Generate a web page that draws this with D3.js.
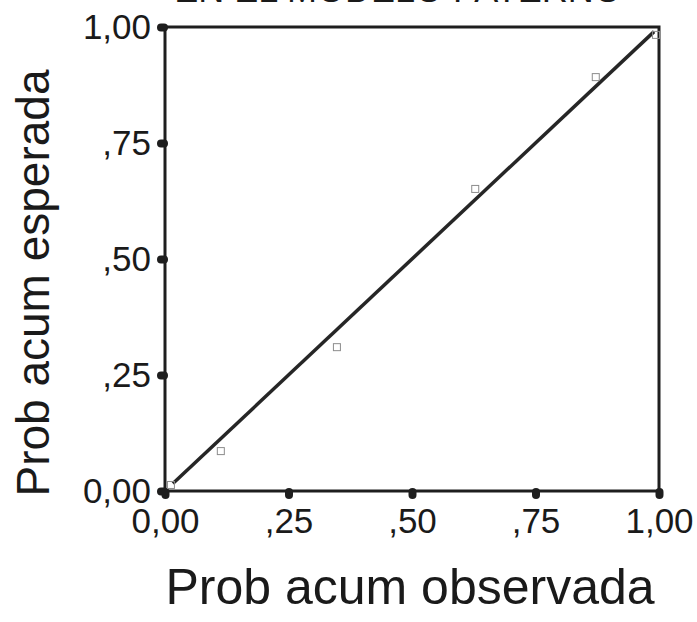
<!DOCTYPE html>
<html><head><meta charset="utf-8">
<script src="https://cdn.jsdelivr.net/npm/d3@7"></script>
<style>body{margin:0;background:#fff}svg{display:block}text{font-family:"Liberation Sans",Arial,sans-serif;fill:#1a1a1a}</style>
</head><body>
<script>
const titleText = "EN EL MODELO PATERNO";
const xLabel = "Prob acum observada";
const yLabel = "Prob acum esperada";
const tickValues = [0, 0.25, 0.5, 0.75, 1];
const tickLabels = ["0,00", ",25", ",50", ",75", "1,00"];
const observed = [0.012, 0.113, 0.348, 0.628, 0.872, 0.994];
const expected = [0.013, 0.086, 0.310, 0.651, 0.892, 0.983];
const refLine = [0.016, 0.99];

const W = 697, H = 622;
const svg = d3.select("body").append("svg").attr("width", W).attr("height", H);
const x = d3.scaleLinear().domain([0, 1]).range([165, 659]);
const y = d3.scaleLinear().domain([0, 1]).range([491, 27]);
const ink = "#1e1e1e";

// title (cut off at top, as in the reference)
svg.append("text").attr("x", 398).attr("y", 2).attr("text-anchor", "middle")
  .style("font-size", "36px").text(titleText);

// frame
svg.append("rect").attr("x", x(0)).attr("y", y(1)).attr("width", x(1) - x(0)).attr("height", y(0) - y(1))
  .attr("fill", "none").attr("stroke", ink).attr("stroke-width", 3);

// axes via d3
const xAxis = d3.axisBottom(x).tickValues(tickValues).tickFormat((d, i) => tickLabels[i]).tickSize(5).tickPadding(7);
const gx = svg.append("g").attr("transform", `translate(0,${y(0)})`).call(xAxis);
const yAxis = d3.axisLeft(y).tickValues(tickValues).tickFormat((d, i) => tickLabels[i]).tickSize(5).tickPadding(7);
const gy = svg.append("g").attr("transform", `translate(${x(0)},0)`).call(yAxis);
[gx, gy].forEach(g => {
  g.select(".domain").remove();
  g.selectAll(".tick line").attr("stroke", ink).attr("stroke-width", 8).attr("stroke-linecap", "round");
  g.selectAll(".tick text").style("font-size", "35px").style("font-family", "'Liberation Sans',Arial,sans-serif").attr("fill", "#1a1a1a");
});
gx.selectAll(".tick line").attr("y1", 1).attr("y2", 4);
gx.selectAll(".tick text").attr("dy", "0.71em").attr("y", 17);
gy.selectAll(".tick line").attr("x1", -1).attr("x2", -4);
gy.selectAll(".tick text").attr("dy", "0.34em").attr("x", -14);

// reference line
svg.append("line").attr("x1", x(refLine[0])).attr("y1", y(refLine[0])).attr("x2", x(refLine[1])).attr("y2", y(refLine[1]))
  .attr("stroke", "#262626").attr("stroke-width", 3.5);

// points
const pts = observed.map((o, i) => ({o, e: expected[i]}));
svg.selectAll(".pt").data(pts).enter().append("rect").attr("class", "pt")
  .attr("x", d => x(d.o) - 3.5).attr("y", d => y(d.e) - 3.5).attr("width", 7).attr("height", 7)
  .attr("fill", "none").attr("stroke", "#8c8c8c").attr("stroke-width", 1);

// axis titles
svg.append("text").attr("x", 410).attr("y", 604).attr("text-anchor", "middle")
  .style("font-size", "50px").text(xLabel);
svg.append("text").attr("transform", "translate(49,283) rotate(-90)").attr("text-anchor", "middle")
  .style("font-size", "46px").text(yLabel);
</script>
</body></html>
